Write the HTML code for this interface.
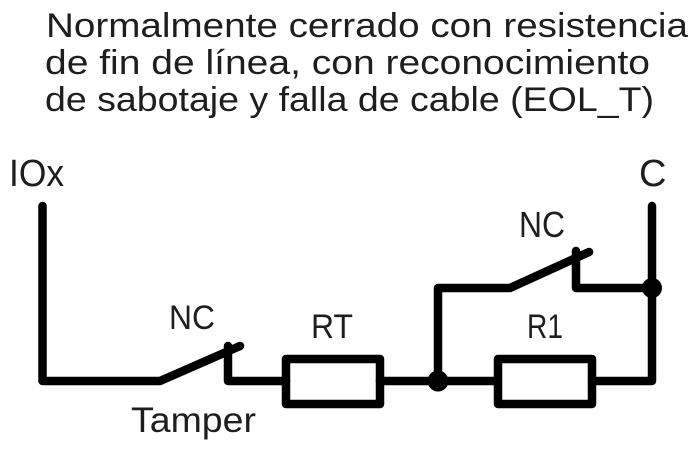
<!DOCTYPE html>
<html>
<head>
<meta charset="utf-8">
<style>
  html, body { margin: 0; padding: 0; background: #fff; }
  body { width: 699px; height: 450px; overflow: hidden; }
  svg { display: block; }
  text { font-family: "Liberation Sans", "DejaVu Sans", sans-serif; fill: #1e1e1e; }
</style>
</head>
<body>
<svg width="699" height="450" viewBox="0 0 699 450" xmlns="http://www.w3.org/2000/svg">
  <rect width="699" height="450" fill="#fff"/>

  <!-- Title -->
  <text x="46" y="37" font-size="34" textLength="642" lengthAdjust="spacingAndGlyphs">Normalmente cerrado con resistencia</text>
  <text x="45" y="74" font-size="34" textLength="605" lengthAdjust="spacingAndGlyphs">de fin de línea, con reconocimiento</text>
  <text x="45" y="111" font-size="34" textLength="609" lengthAdjust="spacingAndGlyphs">de sabotaje y falla de cable (EOL_T)</text>

  <!-- Labels -->
  <text x="9" y="186" font-size="38" textLength="55" lengthAdjust="spacingAndGlyphs">IOx</text>
  <text x="639" y="186" font-size="38">C</text>
  <text x="169" y="329" font-size="34" textLength="46" lengthAdjust="spacingAndGlyphs">NC</text>
  <text x="519" y="237" font-size="36" textLength="46" lengthAdjust="spacingAndGlyphs">NC</text>
  <text x="311" y="338" font-size="34" textLength="42" lengthAdjust="spacingAndGlyphs">RT</text>
  <text x="527" y="338" font-size="34" textLength="36" lengthAdjust="spacingAndGlyphs">R1</text>
  <text x="131" y="432" font-size="35" textLength="125" lengthAdjust="spacingAndGlyphs">Tamper</text>

  <!-- Wires -->
  <g fill="none" stroke="#000" stroke-width="8.5" stroke-linecap="round" stroke-linejoin="round">
    <!-- IOx line and tamper switch -->
    <path d="M42.5 206 V381 H160 L240 346"/>
    <path d="M228 346 V381 H286"/>
    <!-- RT resistor -->
    <rect x="286" y="359" width="94" height="45"/>
    <path d="M380 381 H498"/>
    <!-- R1 resistor -->
    <rect x="498" y="359" width="94" height="45"/>
    <path d="M592 381 H652 V206"/>
    <!-- parallel NC switch branch -->
    <path d="M438 381 V288 H510 L589 252"/>
    <path d="M576 251 V288 H652"/>
  </g>

  <!-- Junction dots -->
  <circle cx="438" cy="381" r="10.5" fill="#000"/>
  <circle cx="652" cy="288" r="10" fill="#000"/>
</svg>
</body>
</html>
